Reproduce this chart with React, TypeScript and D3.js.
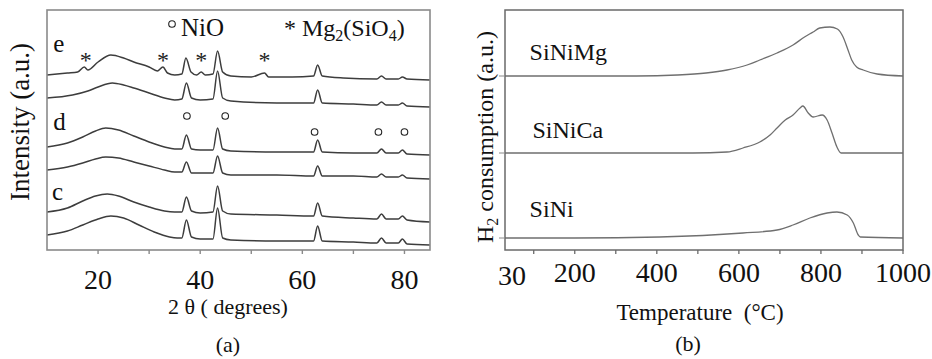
import * as d3 from "d3";

const FONT = "'Liberation Serif','Times New Roman',serif";

// ---- (a) XRD patterns: [2θ (deg), intensity (a.u., stacked offset included)]
const XRD_E_TOP = [
  [10, 175], [14, 177], [16, 178], [17.3, 183], [18, 180], [20, 188], [22.5, 195], [25, 192],
  [27, 188], [30, 183], [31.6, 179], [32.7, 183], [33.6, 177], [35, 175], [36.4, 176],
  [37.2, 192], [38.2, 178], [39.3, 175], [40.2, 178], [41, 175], [42.5, 176], [43.4, 199],
  [44.4, 178], [46, 174], [50, 173], [52.6, 177], [53.4, 173], [58, 173], [62.2, 174],
  [63.0, 185], [63.9, 174], [68, 172], [74.6, 171], [75.5, 174], [76.4, 171], [78.8, 171],
  [79.6, 173], [80.5, 171], [85, 170],
];
const XRD_E_LOW = [
  [10, 152], [15, 155], [18, 159], [20, 163], [22.8, 167], [25, 165], [27, 162], [30, 157],
  [33, 152], [35, 150], [36.4, 151], [37.3, 167], [38.3, 152], [40, 150], [42.5, 151],
  [43.4, 179], [44.4, 152], [46, 149], [55, 147], [62.2, 147], [63.0, 160], [63.9, 147],
  [70, 146], [74.6, 145], [75.5, 148], [76.4, 145], [78.8, 145], [79.6, 147], [80.5, 144],
  [85, 143],
];
const XRD_D_TOP = [
  [10, 103], [14, 107], [17, 113], [19.5, 119], [21.5, 122], [24, 120], [27, 114], [30, 108],
  [33, 103], [35, 101], [36.4, 101], [37.3, 115], [38.3, 101], [40, 100], [42.5, 100],
  [43.4, 122], [44.4, 101], [46, 99], [55, 98], [62.2, 98], [63.0, 110], [63.9, 98],
  [70, 97], [74.6, 97], [75.5, 101], [76.4, 97], [78.8, 97], [79.6, 100], [80.5, 96],
  [85, 95],
];
const XRD_D_LOW = [
  [10, 80], [14, 83], [17, 87], [19.5, 91], [21.5, 93], [24, 92], [27, 88], [30, 84],
  [33, 80], [35, 78], [36.4, 78], [37.3, 88], [38.3, 77], [40, 77], [42.5, 77], [43.4, 94],
  [44.4, 77], [46, 75], [55, 75], [62.2, 74], [63.0, 84], [63.9, 74], [70, 74], [74.6, 73],
  [75.5, 76], [76.4, 73], [78.8, 73], [79.6, 75], [80.5, 72], [85, 71],
];
const XRD_C_TOP = [
  [10, 38], [14, 42], [17, 49], [19.5, 54], [21.8, 56], [24, 54], [27, 48], [30, 43],
  [33, 39], [35, 38], [36.4, 38], [37.3, 53], [38.3, 39], [40, 37], [42.5, 38], [43.4, 64],
  [44.4, 39], [46, 36], [55, 35], [62.2, 34], [63.0, 47], [63.9, 34], [70, 32], [74.6, 31],
  [75.5, 36], [76.4, 31], [78.8, 31], [79.6, 34], [80.5, 30], [85, 28],
];
const XRD_C_LOW = [
  [10, 15], [14, 19], [17, 25], [20, 31], [22.5, 34], [25, 32], [28, 25], [31, 18],
  [34, 13], [35.5, 12], [36.4, 12], [37.3, 30], [38.3, 13], [40, 11], [42.5, 11], [43.4, 42],
  [44.4, 12], [46, 10], [55, 9], [62.2, 9], [63.0, 24], [63.9, 9], [70, 8], [74.6, 7],
  [75.5, 12], [76.4, 7], [78.8, 7], [79.6, 11], [80.5, 6], [85, 5],
];
const XRD_PATTERNS = [XRD_E_TOP, XRD_E_LOW, XRD_D_TOP, XRD_D_LOW, XRD_C_TOP, XRD_C_LOW];
const XRD_SAMPLE_LABELS = [["e", 11.2, 198], ["d", 11.2, 120], ["c", 11.0, 50]];
const MG2SIO4_MARKS = [[17.6, 194], [32.7, 194], [40.2, 194], [52.6, 194]];
const NIO_MARKS = [[37.4, 134], [44.9, 134], [62.4, 118], [74.9, 118], [80.0, 118]];
const XRD_TICKS = [20, 30, 40, 50, 60, 70, 80];
const XRD_TICK_LABELS = [20, 40, 60, 80];

// ---- (b) H2-TPR profiles: [temperature (°C), H2 consumption (a.u., offset included)]
const TPR_SINIMG = [
  [30, 174], [350, 174], [450, 175], [520, 177], [571, 180], [620, 185], [651, 190],
  [693, 197], [732, 205], [760, 213], [781, 218], [797, 222], [822, 223], [840, 221],
  [854, 213], [866, 200], [875, 190], [887, 183], [903, 180], [937, 176], [1000, 174],
];
const TPR_SINICA = [
  [30, 97], [488, 97], [571, 98], [610, 102], [651, 108], [676, 115], [693, 122], [713, 130],
  [732, 135], [749, 142], [756, 144], [769, 137], [781, 133], [803, 135], [815, 130],
  [827, 117], [839, 103], [849, 97], [1000, 97],
];
const TPR_SINI = [
  [30, 12], [200, 12], [407, 13], [610, 17], [693, 20], [732, 25], [773, 32], [815, 37],
  [839, 38], [864, 35], [879, 27], [891, 15], [896, 13], [1000, 12],
];
const TPR_SERIES = [TPR_SINIMG, TPR_SINICA, TPR_SINI];
const TPR_LABELS = [["SiNiMg", 90, 190], ["SiNiCa", 97, 112], ["SiNi", 90, 33]];
const TPR_BASELINES = [174, 97, 12];
const TPR_TICKS = [100, 200, 300, 400, 500, 600, 700, 800, 900, 1000];
const TPR_TICK_LABELS = [200, 400, 600, 800, 1000];

function XrdPanel() {
  const x = d3.scaleLinear().domain([10, 85]).range([47, 430]);
  const y = d3.scaleLinear().domain([0, 240]).range([250, 10]);
  const line = d3.line<number[]>().x((d) => x(d[0])).y((d) => y(d[1])).curve(d3.curveMonotoneX);

  return (
    <g>
      {XRD_PATTERNS.map((p, i) => (
        <path key={i} d={line(p) ?? ""} fill="none" stroke="#3d3d3d" strokeWidth={1.5} />
      ))}

      <rect x={47} y={10} width={383} height={240} fill="none" stroke="#8a8a8a" strokeWidth={1.6} />
      {XRD_TICKS.map((t) => (
        <line key={t} x1={x(t)} x2={x(t)} y1={250} y2={254} stroke="#8a8a8a" strokeWidth={1.4} />
      ))}
      {XRD_TICK_LABELS.map((t) => (
        <text key={t} x={x(t)} y={289} textAnchor="middle" fontSize={28} fontFamily={FONT} fill="#111">
          {t}
        </text>
      ))}
      <text x={228} y={314} textAnchor="middle" fontSize={22} fontFamily={FONT} fill="#111">
        2 θ ( degrees)
      </text>
      <text x={228} y={352} textAnchor="middle" fontSize={22} fontFamily={FONT} fill="#111">
        (a)
      </text>
      <text transform="translate(29,122) rotate(-90)" textAnchor="middle" fontSize={27}
        fontFamily={FONT} fill="#111">
        Intensity (a.u.)
      </text>

      {/* sample letters */}
      {XRD_SAMPLE_LABELS.map(([s, a, b]) => (
        <text key={s as string} x={x(a as number)} y={y(b as number)} fontSize={25}
          fontFamily={FONT} fill="#111">
          {s}
        </text>
      ))}

      {/* phase markers */}
      {MG2SIO4_MARKS.map(([a, b]) => (
        <text key={a} x={x(a)} y={y(b) + 12} textAnchor="middle" fontSize={24}
          fontFamily={FONT} fill="#222">
          *
        </text>
      ))}
      {NIO_MARKS.map(([a, b]) => (
        <circle key={a} cx={x(a)} cy={y(b)} r={3.3} fill="none" stroke="#222" strokeWidth={1.1} />
      ))}

      {/* legend */}
      <circle cx={172} cy={24} r={3.3} fill="none" stroke="#222" strokeWidth={1.1} />
      <text x={181} y={36} fontSize={25} fontFamily={FONT} fill="#111">NiO</text>
      <text x={284} y={36} fontSize={24} fontFamily={FONT} fill="#111">
        *{" "}Mg<tspan dy={5} fontSize={16}>2</tspan>
        <tspan dy={-5}>(SiO</tspan>
        <tspan dy={5} fontSize={16}>4</tspan>
        <tspan dy={-5}>)</tspan>
      </text>
    </g>
  );
}

function TprPanel() {
  const x = d3.scaleLinear().domain([30, 1000]).range([505, 903]);
  const y = d3.scaleLinear().domain([0, 240]).range([250, 10]);
  const line = d3.line<number[]>().x((d) => x(d[0])).y((d) => y(d[1])).curve(d3.curveMonotoneX);

  return (
    <g>
      {TPR_SERIES.map((s, i) => (
        <path key={i} d={line(s) ?? ""} fill="none" stroke="#6f6f6f" strokeWidth={1.3} />
      ))}

      <rect x={505} y={10} width={398} height={240} fill="none" stroke="#6a6a6a" strokeWidth={1.5} />
      {TPR_TICKS.map((t) => (
        <line key={t} x1={x(t)} x2={x(t)} y1={250} y2={254} stroke="#6a6a6a" strokeWidth={1.3} />
      ))}
      {TPR_BASELINES.map((b) => (
        <line key={b} x1={499} x2={505} y1={y(b)} y2={y(b)} stroke="#8a8a8a" strokeWidth={1} />
      ))}
      <text x={512} y={285} textAnchor="middle" fontSize={28} fontFamily={FONT} fill="#111">30</text>
      {TPR_TICK_LABELS.map((t) => (
        <text key={t} x={x(t)} y={282} textAnchor="middle" fontSize={28} fontFamily={FONT} fill="#111">
          {t}
        </text>
      ))}
      <text x={700} y={320} textAnchor="middle" fontSize={23} fontFamily={FONT} fill="#111">
        Temperature{"\u00a0\u00a0"}(°C)
      </text>
      <text x={688} y={351} textAnchor="middle" fontSize={22} fontFamily={FONT} fill="#111">
        (b)
      </text>
      <text transform="translate(493,137) rotate(-90)" textAnchor="middle" fontSize={24}
        fontFamily={FONT} fill="#111">
        H<tspan dy={5} fontSize={16}>2</tspan>
        <tspan dy={-5}>{" "}consumption (a.u.)</tspan>
      </text>

      {TPR_LABELS.map(([s, a, b]) => (
        <text key={s as string} x={x(a as number)} y={y(b as number)} fontSize={24}
          fontFamily={FONT} fill="#111">
          {s}
        </text>
      ))}
    </g>
  );
}

export default function App() {
  return (
    <div style={{ position: "fixed", left: 0, top: 0 }}>
      <svg width={932} height={359} style={{ display: "block", background: "#fff" }}>
        <XrdPanel />
        <TprPanel />
      </svg>
    </div>
  );
}
